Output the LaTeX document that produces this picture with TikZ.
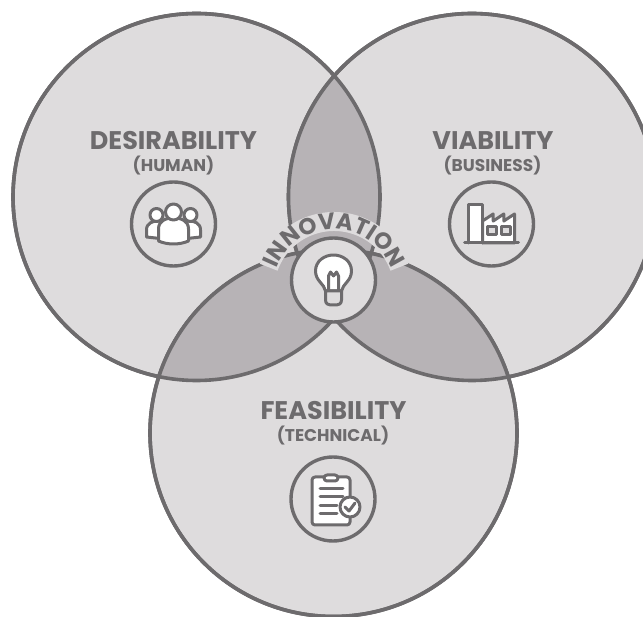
\documentclass[tikz,border=0pt]{standalone}
\usepackage{fontspec}
\setmainfont{Poppins}
\usetikzlibrary{decorations.text}
\definecolor{ringcol}{HTML}{6D6B6D}
\definecolor{lightcol}{HTML}{DEDCDD}
\definecolor{darkcol}{HTML}{B7B3B6}
\tikzset{
  venn/.style={circle, draw=ringcol, line width=3.6pt, minimum size=367pt, inner sep=0pt},
  badge/.style={circle, draw=ringcol, line width=3.4pt, minimum size=84pt, inner sep=0pt},
  title/.style={text=ringcol, font=\fontsize{25.5}{26}\selectfont\bfseries, inner sep=0pt},
  subtitle/.style={text=ringcol, font=\fontsize{17}{18}\selectfont\bfseries, inner sep=0pt},
  icon/.style={draw=ringcol, line width=3pt, line join=round, line cap=round},
  iconfill/.style={icon, fill=white}
}
\begin{document}
\begin{tikzpicture}[x=1pt,y=-1pt]
\useasboundingbox (0,0) rectangle (643,617);
\clip (0,0) rectangle (643,617);
% circles
\node[venn, fill=lightcol] (desir) at (196.5,197){};
\node[venn, fill=lightcol] (viab) at (472,197){};
\node[venn, fill=lightcol] (feas) at (333.5,433){};
\begin{scope}
\clip (196.5,197) circle (183.5);
\fill[darkcol] (472,197) circle (183.5);
\end{scope}
\begin{scope}
\clip (196.5,197) circle (183.5);
\fill[darkcol] (333.5,433) circle (183.5);
\end{scope}
\begin{scope}
\clip (472,197) circle (183.5);
\fill[darkcol] (333.5,433) circle (183.5);
\end{scope}
\node[venn] (desirb) at (196.5,197){};
\node[venn] (viabb) at (472,197){};
\node[venn] (feasb) at (333.5,433){};
% band behind the curved text
\draw[lightcol, line width=19pt] ({334+69.5*cos(200)},{291+69.5*sin(200)}) arc[start angle=200, end angle=340, radius=69.5];
% badges
\node[badge] (human) at (173.5,224){};
\node[badge] (business) at (491.5,224){};
\node[badge] (technical) at (333,499){};
\node[badge, fill=lightcol] (bulb) at (333.5,280){};
% labels
\node[title] (desirt) at (173.5,141){DESIRABILITY};
\node[subtitle] (desirs) at (173.5,166){(HUMAN)};
\node[title] (viabt) at (493,141){VIABILITY};
\node[subtitle] (viabs) at (492.5,165.5){(BUSINESS)};
\node[title] (feast) at (333.5,410.5){FEASIBILITY};
\node[subtitle] (feass) at (333,436){(TECHNICAL)};
% curved text
\path[postaction={decorate, decoration={text along path, text align=center,
  text={|\fontsize{23}{23}\selectfont\bfseries\color{ringcol}|INNOVATION}}}]
  (272,291) arc[start angle=180, end angle=360, radius=62];
% people
\begin{scope}[shift={(173.5,224)}]
\draw[iconfill] (-27,13) -- (-27,6) .. controls (-27,-1) and (-21,-3) .. (-15,-3) -- (-9,-3) -- (-9,15) -- cycle;
\draw[iconfill] (27,13) -- (27,6) .. controls (27,-1) and (21,-3) .. (15,-3) -- (9,-3) -- (9,15) -- cycle;
\draw[iconfill] (-17,-9) circle (6.5);
\draw[iconfill] (17,-9) circle (6.5);
\draw[iconfill] (-15,17) -- (-15,5) .. controls (-15,-3) and (-8,-6) .. (0,-6) .. controls (8,-6) and (15,-3) .. (15,5) -- (15,17) .. controls (6,21) and (-6,21) .. (-15,17) -- cycle;
\draw[iconfill] (0,-12) circle (8);
\end{scope}
% factory
\begin{scope}[shift={(491.5,224)}]
\draw[iconfill] (-23,19) -- (-23,-19) -- (-9,-19) -- (-9,19);
\draw[iconfill] (-9,-3) -- (1.7,-10) -- (1.7,-3) -- (12.3,-10) -- (12.3,-3) -- (23,-10) -- (23,19) -- (-9,19) -- cycle;
\draw[icon] (-27,19) -- (27,19);
\draw[icon, fill=lightcol] (-4,3) rectangle (5,11);
\draw[icon, fill=lightcol] (10,3) rectangle (19,11);
\end{scope}
% clipboard
\begin{scope}[shift={(333,499)}]
\draw[iconfill, rounded corners=3pt] (-21,-22) rectangle (17,26);
\draw[iconfill, rounded corners=3pt] (-9,-24) rectangle (5,-18);
\foreach \yy/\xx in {-10/10,-2/10,7/4,15/4}
  \draw[icon] (-13,\yy) -- (\xx,\yy);
\draw[iconfill] (17,8) circle (10);
\draw[icon] (12,8) -- (16,12) -- (22,4);
\end{scope}
% bulb
\begin{scope}[shift={(333.5,280)}]
\draw[iconfill] (-8,11) .. controls (-9,4) and (-18,1) .. (-18,-9) .. controls (-18,-19) and (-9,-25) .. (0,-25) .. controls (9,-25) and (18,-19) .. (18,-9) .. controls (18,1) and (9,4) .. (8,11) -- cycle;
\draw[icon] (-5,11) -- (-5,-4) -- (-3,-8) -- (0,-4) -- (3,-8) -- (5,-4) -- (5,11);
\draw[icon, fill=lightcol] (-8,11) -- (8,11) -- (8,20) .. controls (8,24) and (5,25) .. (3,25) -- (-3,25) .. controls (-5,25) and (-8,24) .. (-8,20) -- cycle;
\end{scope}
\end{tikzpicture}
\end{document}
